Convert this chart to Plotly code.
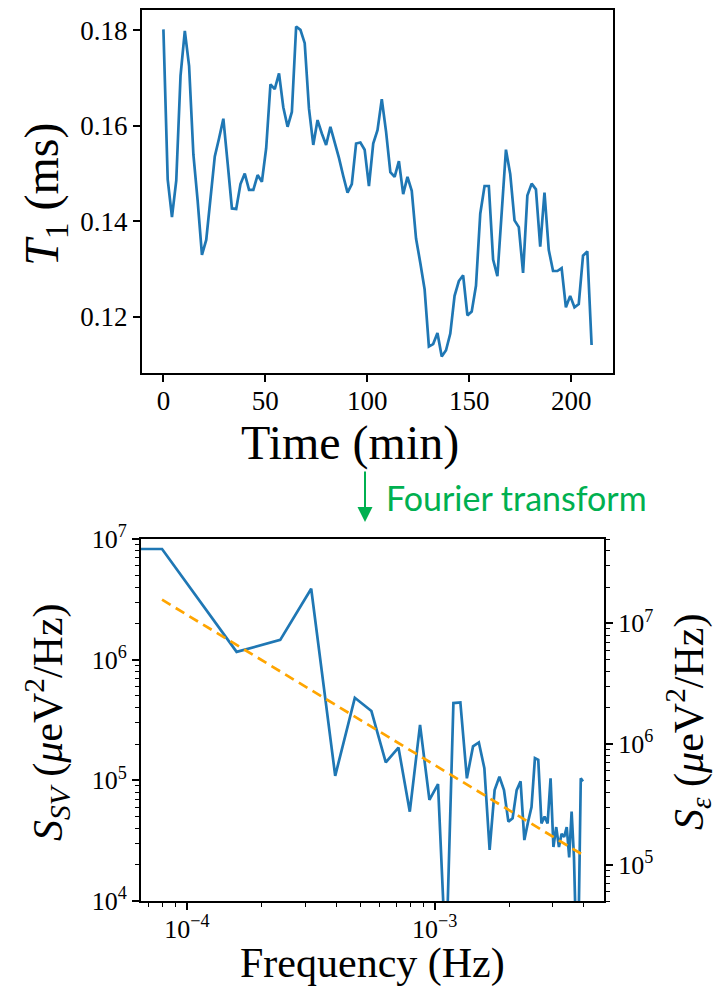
import math
import plotly.graph_objects as go

# ---------------- data ----------------
time_min = [0.0, 2.1, 4.2, 6.3, 8.4, 10.5, 12.6, 14.7, 16.8, 18.9, 21.0, 23.1, 25.2, 27.3, 29.4,
            31.5, 33.6, 35.7, 37.8, 39.9, 42.0, 44.1, 46.2, 48.3, 50.4, 52.5, 54.6, 56.7, 58.8,
            60.9, 63.0, 65.1, 67.2, 69.3, 71.4, 73.5, 75.6, 77.7, 79.8, 81.9, 84.0, 86.1, 88.2,
            90.3, 92.4, 94.5, 96.6, 98.7, 100.8, 102.9, 105.0, 107.1, 109.2, 111.3, 113.4, 115.5,
            117.6, 119.7, 121.8, 123.9, 126.0, 128.1, 130.2, 132.3, 134.4, 136.5, 138.6, 140.7,
            142.8, 144.9, 147.0, 149.1, 151.2, 153.3, 155.4, 157.5, 159.6, 161.7, 163.8, 165.9,
            168.0, 170.1, 172.2, 174.3, 176.4, 178.5, 180.6, 182.7, 184.8, 186.9, 189.0, 191.1,
            193.2, 195.3, 197.4, 199.5, 201.6, 203.7, 205.8, 207.9, 210.0]

t1_ms = [0.1802, 0.1488, 0.1409, 0.1485, 0.1705, 0.1799, 0.1725, 0.1540, 0.1443, 0.1330,
         0.1361, 0.1443, 0.1536, 0.1574, 0.1615, 0.1522, 0.1427, 0.1426, 0.1478, 0.1500,
         0.1466, 0.1466, 0.1497, 0.1483, 0.1553, 0.1687, 0.1677, 0.1710, 0.1639, 0.1598,
         0.1629, 0.1808, 0.1801, 0.1773, 0.1636, 0.1560, 0.1612, 0.1584, 0.1560, 0.1598,
         0.1567, 0.1533, 0.1495, 0.1460, 0.1478, 0.1563, 0.1565, 0.1550, 0.1474, 0.1563,
         0.1591, 0.1656, 0.1588, 0.1503, 0.1493, 0.1526, 0.1457, 0.1493, 0.1464, 0.1364,
         0.1313, 0.1258, 0.1138, 0.1143, 0.1166, 0.1117, 0.1130, 0.1165, 0.1244, 0.1275,
         0.1287, 0.1203, 0.1211, 0.1265, 0.1416, 0.1474, 0.1474, 0.1320, 0.1285, 0.1409,
         0.1550, 0.1499, 0.1402, 0.1388, 0.1292, 0.1454, 0.1479, 0.1467, 0.1347, 0.1460,
         0.1340, 0.1296, 0.1296, 0.1302, 0.1220, 0.1244, 0.1220, 0.1227, 0.1328, 0.1337, 0.1141]

# spectrum: first entry is the DC bin (f = 0)
freq_hz = [0.0] + [k / 12600.0 for k in range(1, 51)]
s_sv = [8.26e6,
        8.26e6, 1.16e6, 1.46e6, 3.87e6, 1.09e5, 4.83e5, 3.75e5, 1.41e5, 1.87e5, 5.5e4,
        2.88e5, 6.9e4, 9.3e4, 3.0e3, 4.37e5, 4.42e5, 1.04e5, 1.91e5, 2.06e5, 1.26e5,
        2.65e4, 8.3e4, 1.07e5, 8.3e4, 4.55e4, 4.85e4, 8.3e4, 9.8e4, 3.2e4, 4.5e4,
        6.0e4, 1.53e5, 1.48e5, 4.4e4, 5.0e4, 4.4e4, 1.04e5, 2.8e4, 4.1e4, 2.8e4,
        3.6e4, 3.4e4, 4.1e4, 2.3e4, 5.5e4, 2.3e4, 4.0e3, 6.0e3, 1.04e5, 9.8e4]

fit_value_at_f1 = 3.14e6
fit_exponent = 1.245
eps_per_sv = 5.0          # conversion factor between left and right axes

top_yticks = [0.12, 0.14, 0.16, 0.18]
top_xticks = [0, 50, 100, 150, 200]

# ---------------- derived ----------------
pos_f = [f for f in freq_hz if f > 0]
f1 = pos_f[0]
fit_f = pos_f
fit_s = [fit_value_at_f1 * (f / f1) ** (-fit_exponent) for f in fit_f]
# matplotlib clips f=0 on a log axis to a tiny positive value
plot_f = [f if f > 0 else 1e-20 for f in freq_hz]

def margins(lo, hi, m=0.05):
    d = hi - lo
    return [lo - m * d, hi + m * d]

top_xr = margins(min(time_min), max(time_min))
top_yr = margins(min(t1_ms), max(t1_ms))
bx = margins(math.log10(min(pos_f)), math.log10(max(pos_f)))
by = [4, 7]
by_right = [by[0] + math.log10(eps_per_sv), by[1] + math.log10(eps_per_sv)]

# page body has an 8px margin: figure is placed at (8, 8)
OFF = 8
W, H = 727 - 2 * OFF, 997 - 2 * OFF
def px_x(p):
    return (p - OFF) / W
def px_y(p):
    return 1 - (p - OFF) / H

SERIF = "Liberation Serif"
BLUE = "#1f77b4"

fig = go.Figure()
fig.add_trace(go.Scatter(x=time_min, y=t1_ms, mode="lines",
                         line=dict(color=BLUE, width=2.7), xaxis="x", yaxis="y",
                         showlegend=False))
fig.add_trace(go.Scatter(x=plot_f, y=s_sv, mode="lines",
                         line=dict(color=BLUE, width=2.7), xaxis="x2", yaxis="y2",
                         showlegend=False))
fig.add_trace(go.Scatter(x=fit_f, y=fit_s, mode="lines",
                         line=dict(color="#ffa500", width=2.7, dash="10px,6px"),
                         xaxis="x2", yaxis="y2", showlegend=False))
fig.add_trace(go.Scatter(x=[None], y=[None], xaxis="x2", yaxis="y3", showlegend=False))

def minor_vals(lo_exp, hi_exp):
    out = []
    for e in range(lo_exp, hi_exp + 1):
        for k in range(2, 10):
            out.append(k * 10 ** e)
    return out

def common(size):
    return dict(showline=True, linecolor="black", linewidth=2, ticks="outside",
                ticklen=7, tickwidth=1.8, tickcolor="black", showgrid=False,
                zeroline=False, automargin=False,
                tickfont=dict(family=SERIF, size=size, color="black"))

def minor():
    return dict(ticks="outside", ticklen=4, tickwidth=1.3, tickcolor="black", showgrid=False)

TOP_TICK = 27
BOT_TICK = 26

fig.update_layout(
    template="none",
    width=W, height=H, margin=dict(l=0, r=0, t=0, b=0, pad=0, autoexpand=False),
    paper_bgcolor="white", plot_bgcolor="white",
    font=dict(family=SERIF, size=BOT_TICK, color="black"),
    showlegend=False,
    xaxis=dict(domain=[px_x(142), px_x(613)], anchor="y", range=top_xr,
               tickvals=top_xticks, mirror=True, ticklabelstandoff=-4, **common(TOP_TICK)),
    yaxis=dict(domain=[px_y(373), px_y(10)], anchor="x", range=top_yr,
               tickvals=top_yticks, ticktext=[f"{v:.2f}" for v in top_yticks],
               mirror=True, **common(TOP_TICK)),
    xaxis2=dict(domain=[px_x(141), px_x(604)], anchor="y2", type="log", range=bx,
                tickvals=[1e-4, 1e-3], ticktext=["10<sup>\u22124</sup>", "10<sup>\u22123</sup>"],
                mirror=True, ticklabelstandoff=-3,
                minor=dict(tickvals=minor_vals(-5, -3), **minor()),
                **common(BOT_TICK)),
    yaxis2=dict(domain=[px_y(901), px_y(539)], anchor="x2", type="log", range=by,
                tickvals=[1e4, 1e5, 1e6, 1e7],
                ticktext=["10<sup>4</sup>", "10<sup>5</sup>", "10<sup>6</sup>", "10<sup>7</sup>"],
                minor=dict(tickvals=minor_vals(4, 6), **minor()),
                **common(BOT_TICK)),
    yaxis3=dict(domain=[px_y(901), px_y(539)], anchor="x2", overlaying="y2", side="right",
                type="log", range=by_right,
                tickvals=[1e5, 1e6, 1e7],
                ticktext=["10<sup>5</sup>", "10<sup>6</sup>", "10<sup>7</sup>"],
                minor=dict(tickvals=minor_vals(4, 7), **minor()),
                **common(BOT_TICK)),
)

TOPTITLE = dict(family=SERIF, size=48, color="black")
BOTTITLE = dict(family=SERIF, size=42, color="black")
ann = [
    dict(text="<i>T</i><sub>1</sub> (ms)", x=px_x(45), y=px_y(195), textangle=-90, font=TOPTITLE),
    dict(text="Time (min)", x=px_x(350), y=px_y(443), textangle=0, font=TOPTITLE),
    dict(text="<i>S<sub>SV</sub></i> (<i>\u03bc</i>eV<sup>2</sup>/Hz)", x=px_x(47), y=px_y(722),
         textangle=-90, font=BOTTITLE),
    dict(text="<i>S<sub>\u03b5</sub></i> (<i>\u03bc</i>eV<sup>2</sup>/Hz)", x=px_x(688), y=px_y(722),
         textangle=-90, font=BOTTITLE),
    dict(text="Frequency (Hz)", x=px_x(372), y=px_y(963), textangle=0, font=BOTTITLE),
]
for a in ann:
    fig.add_annotation(xref="paper", yref="paper", showarrow=False,
                       xanchor="center", yanchor="middle", **a)

GREEN = "#00b050"
fig.add_annotation(xref="paper", yref="paper", x=px_x(384), y=px_y(497),
                   text="Fourier transform", showarrow=False, xanchor="left", yanchor="middle",
                   font=dict(family="Lato", size=34, color=GREEN))
fig.add_annotation(xref="paper", yref="paper", axref="pixel", ayref="pixel",
                   x=px_x(365), y=px_y(522), ax=0, ay=-52, text="", showarrow=True,
                   arrowhead=2, arrowsize=1.5, arrowwidth=2, arrowcolor=GREEN)

fig.write_html("out.html")
